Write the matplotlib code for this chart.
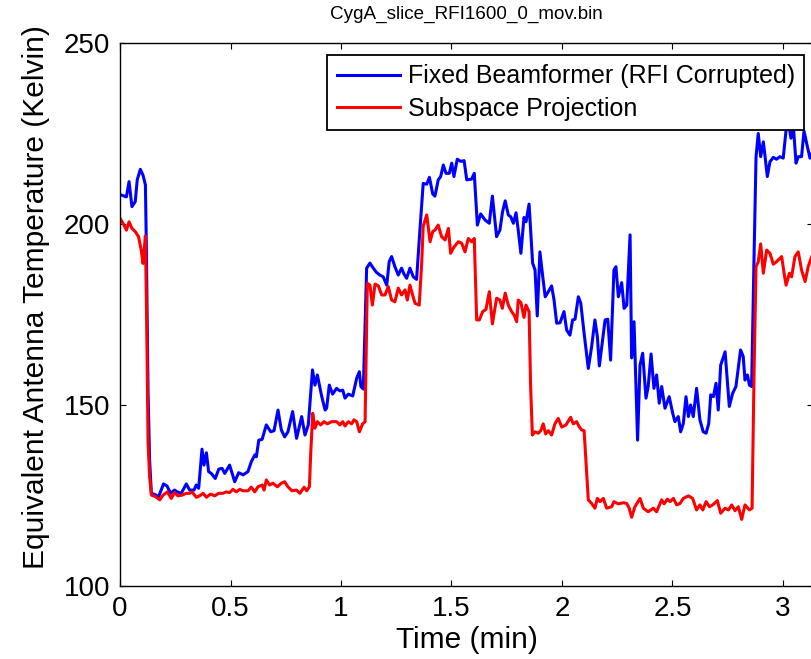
import matplotlib
matplotlib.use("Agg")
import matplotlib.pyplot as plt

# Fixed beamformer (RFI corrupted)
blue_t = [0.006, 0.029, 0.041, 0.054, 0.069, 0.078, 0.092, 0.104, 0.115, 0.119,
          0.127, 0.134, 0.142, 0.157, 0.175, 0.197, 0.213, 0.229, 0.247, 0.259,
          0.277, 0.300, 0.315, 0.335, 0.345, 0.356, 0.371, 0.380, 0.391, 0.401,
          0.413, 0.431, 0.447, 0.462, 0.474, 0.496, 0.519, 0.537, 0.557, 0.579,
          0.594, 0.610, 0.617, 0.628, 0.643, 0.662, 0.682, 0.697, 0.715, 0.730,
          0.745, 0.760, 0.781, 0.799, 0.822, 0.837, 0.852, 0.871, 0.882, 0.893,
          0.913, 0.928, 0.935, 0.947, 0.962, 0.980, 0.995, 1.008, 1.018, 1.033,
          1.053, 1.071, 1.083, 1.090, 1.101, 1.116, 1.131, 1.146, 1.161, 1.176,
          1.191, 1.207, 1.218, 1.229, 1.244, 1.259, 1.274, 1.285, 1.297, 1.312,
          1.327, 1.342, 1.357, 1.372, 1.388, 1.400, 1.415, 1.425, 1.440, 1.451,
          1.463, 1.475, 1.490, 1.501, 1.511, 1.526, 1.542, 1.557, 1.569, 1.591,
          1.603, 1.617, 1.632, 1.652, 1.671, 1.685, 1.704, 1.719, 1.731, 1.743,
          1.757, 1.768, 1.780, 1.792, 1.802, 1.814, 1.828, 1.837, 1.851, 1.867,
          1.878, 1.888, 1.900, 1.913, 1.924, 1.938, 1.953, 1.964, 1.976, 1.991,
          2.009, 2.021, 2.036, 2.048, 2.059, 2.074, 2.085, 2.100, 2.119, 2.134,
          2.149, 2.160, 2.169, 2.184, 2.195, 2.207, 2.220, 2.235, 2.244, 2.255,
          2.270, 2.281, 2.293, 2.308, 2.315, 2.326, 2.342, 2.353, 2.365, 2.380,
          2.390, 2.403, 2.416, 2.428, 2.440, 2.451, 2.466, 2.485, 2.501, 2.511,
          2.526, 2.537, 2.549, 2.561, 2.572, 2.582, 2.594, 2.609, 2.624, 2.639,
          2.652, 2.664, 2.673, 2.685, 2.697, 2.707, 2.718, 2.738, 2.757, 2.772,
          2.787, 2.808, 2.820, 2.828, 2.839, 2.848, 2.858, 2.869, 2.878, 2.888,
          2.899, 2.911, 2.919, 2.929, 2.941, 2.956, 2.971, 2.986, 3.001, 3.014,
          3.024, 3.036, 3.047, 3.059, 3.069, 3.084, 3.095, 3.107, 3.122, 3.131,
          3.150]
blue_k = [208.0, 207.5, 211.7, 204.8, 206.2, 212.2, 215.1, 213.5, 210.8, 194.7,
          153.3, 134.8, 125.6, 125.3, 124.7, 128.2, 127.6, 125.6, 126.5, 126.0,
          125.6, 128.2, 126.5, 126.5, 127.9, 127.0, 137.8, 133.4, 136.8, 131.6,
          131.1, 129.7, 132.3, 132.5, 131.1, 133.4, 128.8, 131.3, 130.7, 131.6,
          134.3, 136.2, 135.7, 140.3, 140.5, 144.5, 142.6, 142.9, 148.6, 143.1,
          141.2, 142.6, 148.2, 140.8, 146.8, 141.7, 144.5, 159.7, 155.5, 158.3,
          152.3, 148.6, 149.1, 155.5, 153.0, 154.6, 153.9, 154.1, 151.9, 153.0,
          152.5, 157.4, 159.2, 155.1, 154.4, 187.8, 189.2, 187.8, 186.6, 185.9,
          185.4, 183.1, 189.6, 191.0, 188.2, 185.9, 187.8, 186.2, 185.0, 187.8,
          185.4, 184.7, 198.3, 211.2, 211.0, 212.9, 208.3, 207.7, 212.2, 213.1,
          216.3, 214.0, 214.0, 216.8, 213.1, 217.9, 217.3, 217.5, 212.2, 212.4,
          214.0, 199.7, 202.8, 201.1, 200.2, 207.7, 196.5, 198.3, 203.4, 206.4,
          202.5, 202.0, 200.2, 203.1, 198.3, 191.9, 201.8, 200.6, 205.5, 189.2,
          187.3, 174.6, 192.3, 185.4, 179.9, 181.3, 182.9, 179.0, 172.6, 172.7,
          175.8, 170.7, 169.3, 173.5, 173.7, 179.9, 178.1, 169.8, 160.1, 166.1,
          173.5, 168.9, 160.8, 168.0, 173.5, 173.7, 162.4, 187.3, 188.2, 179.9,
          183.8, 176.7, 177.6, 197.0, 163.0, 173.0, 140.3, 161.0, 164.3, 151.9,
          155.1, 164.1, 154.6, 158.3, 150.5, 155.1, 149.1, 152.3, 147.7, 145.4,
          146.8, 142.6, 144.9, 152.3, 146.8, 150.0, 146.8, 154.6, 145.9, 142.6,
          142.2, 144.9, 152.8, 152.3, 156.0, 148.6, 161.0, 164.7, 149.6, 153.2,
          155.1, 165.2, 163.4, 156.9, 158.3, 155.5, 155.1, 191.0, 218.6, 225.0,
          218.6, 222.7, 218.6, 213.1, 217.2, 218.4, 217.9, 218.6, 218.2, 226.0,
          228.3, 223.7, 226.9, 216.8, 218.6, 218.6, 225.7, 222.3, 218.2, 219.6,
          220.0]

# Subspace projection
red_t = [0.003, 0.018, 0.029, 0.041, 0.054, 0.069, 0.084, 0.096, 0.104, 0.115,
         0.121, 0.127, 0.134, 0.142, 0.160, 0.180, 0.195, 0.214, 0.232, 0.247,
         0.262, 0.281, 0.300, 0.315, 0.326, 0.345, 0.360, 0.376, 0.391, 0.410,
         0.428, 0.447, 0.466, 0.481, 0.496, 0.511, 0.526, 0.542, 0.557, 0.579,
         0.594, 0.610, 0.624, 0.643, 0.652, 0.662, 0.677, 0.692, 0.712, 0.730,
         0.745, 0.760, 0.778, 0.799, 0.814, 0.833, 0.845, 0.857, 0.863, 0.872,
         0.882, 0.893, 0.908, 0.923, 0.938, 0.958, 0.980, 0.995, 1.008, 1.018,
         1.033, 1.048, 1.059, 1.071, 1.083, 1.098, 1.109, 1.119, 1.131, 1.142,
         1.154, 1.169, 1.184, 1.199, 1.214, 1.229, 1.244, 1.259, 1.274, 1.290,
         1.300, 1.312, 1.324, 1.335, 1.354, 1.365, 1.372, 1.388, 1.403, 1.415,
         1.425, 1.440, 1.455, 1.471, 1.486, 1.496, 1.511, 1.531, 1.546, 1.561,
         1.576, 1.591, 1.603, 1.614, 1.626, 1.641, 1.656, 1.671, 1.685, 1.704,
         1.719, 1.730, 1.743, 1.757, 1.772, 1.783, 1.795, 1.802, 1.814, 1.828,
         1.837, 1.851, 1.858, 1.866, 1.878, 1.893, 1.904, 1.915, 1.926, 1.938,
         1.953, 1.968, 1.983, 1.999, 2.018, 2.039, 2.051, 2.066, 2.078, 2.089,
         2.100, 2.119, 2.134, 2.149, 2.160, 2.172, 2.187, 2.202, 2.225, 2.235,
         2.255, 2.278, 2.293, 2.304, 2.315, 2.330, 2.353, 2.368, 2.390, 2.413,
         2.428, 2.451, 2.462, 2.477, 2.489, 2.504, 2.519, 2.534, 2.549, 2.572,
         2.591, 2.609, 2.624, 2.637, 2.652, 2.667, 2.682, 2.703, 2.718, 2.738,
         2.753, 2.768, 2.783, 2.798, 2.813, 2.828, 2.848, 2.860, 2.869, 2.878,
         2.888, 2.899, 2.911, 2.926, 2.941, 2.956, 2.971, 2.994, 3.005, 3.014,
         3.029, 3.039, 3.054, 3.069, 3.084, 3.100, 3.114, 3.131, 3.150]
red_k = [201.3, 199.7, 198.3, 200.6, 198.8, 197.9, 196.5, 192.8, 189.1, 196.7,
         171.6, 139.4, 130.2, 125.1, 124.7, 123.8, 125.1, 126.0, 124.2, 125.8,
         124.9, 125.1, 125.6, 125.6, 126.0, 124.5, 124.9, 125.6, 124.5, 125.4,
         124.9, 125.6, 125.6, 126.0, 125.8, 126.7, 126.0, 126.7, 126.3, 126.3,
         127.3, 126.0, 127.4, 127.9, 126.5, 129.3, 127.9, 128.4, 127.4, 128.4,
         128.8, 127.4, 126.3, 126.5, 125.6, 127.3, 126.3, 127.4, 136.7, 147.7,
         143.6, 145.4, 144.5, 145.4, 144.8, 145.4, 145.4, 144.5, 145.4, 144.2,
         145.4, 144.8, 145.9, 145.4, 142.6, 144.8, 145.4, 183.6, 183.1, 177.6,
         183.4, 182.9, 180.4, 180.4, 182.7, 179.0, 178.5, 182.3, 180.4, 181.8,
         179.0, 183.1, 180.4, 178.1, 177.6, 189.1, 199.4, 202.5, 195.1, 197.9,
         198.3, 199.7, 196.5, 195.6, 198.8, 191.9, 193.6, 195.1, 194.7, 192.3,
         196.0, 195.1, 196.0, 173.5, 173.5, 175.8, 176.4, 181.3, 172.4, 179.5,
         179.0, 176.7, 180.9, 177.6, 175.8, 174.9, 173.0, 179.0, 178.3, 174.2,
         177.6, 175.8, 155.1, 141.7, 142.6, 142.2, 142.9, 144.8, 142.0, 142.9,
         141.7, 144.8, 146.3, 143.9, 144.5, 146.6, 144.8, 145.4, 144.0, 143.1,
         142.9, 123.8, 122.8, 121.5, 124.2, 123.3, 124.2, 121.5, 121.9, 123.3,
         122.7, 123.0, 122.8, 121.5, 119.0, 121.9, 124.2, 121.5, 120.5, 121.5,
         120.5, 123.8, 122.7, 124.0, 123.3, 124.2, 122.4, 122.8, 124.2, 124.9,
         124.2, 121.0, 122.4, 121.0, 123.3, 121.9, 122.4, 123.6, 120.1, 121.5,
         121.0, 122.4, 120.8, 121.9, 118.4, 122.4, 121.0, 121.5, 158.8, 188.2,
         189.6, 194.5, 186.4, 192.8, 191.9, 188.9, 189.6, 191.0, 186.4, 183.1,
         186.4, 185.4, 191.0, 192.3, 187.3, 184.1, 188.2, 191.2, 190.0]

series_labels = ["Fixed Beamformer (RFI Corrupted)", "Subspace Projection"]
x_ticks = [0, 0.5, 1, 1.5, 2, 2.5, 3]
x_tick_labels = ["0", "0.5", "1", "1.5", "2", "2.5", "3"]
y_ticks = [100, 150, 200, 250]

plt.rcParams["font.family"] = ["Liberation Sans", "DejaVu Sans"]

fig = plt.figure(figsize=(8.12, 6.59), dpi=100)
ax = fig.add_axes([120 / 812, 73 / 659, 693 / 812, 543 / 659])

ax.plot(blue_t, blue_k, color="#0000ff", linewidth=2.2, label=series_labels[0])
ax.plot(red_t, red_k, color="#ff0000", linewidth=2.2, label=series_labels[1])

ax.set_xlim(0, 693 / 221)
ax.set_ylim(100, 250)
ax.set_xticks(x_ticks)
ax.set_xticklabels(x_tick_labels)
ax.set_yticks(y_ticks)
ax.tick_params(direction="in", length=4.3, width=0.8, top=True, right=True,
               labelsize=20, pad=7)
for spine in ax.spines.values():
    spine.set_linewidth(1.0)

ax.set_xlabel("Time (min)", fontsize=21.5, labelpad=3)
ax.set_ylabel("Equivalent Antenna Temperature (Kelvin)", fontsize=21.5)
ax.yaxis.set_label_coords(-0.101, 0.532)
ax.set_title("CygA_slice_RFI1600_0_mov.bin", fontsize=13.6, pad=17.5)

leg = ax.legend(loc="upper left", bbox_to_anchor=((327 - 120) / 693, (586 - 55) / 543),
                fontsize=18, fancybox=False, framealpha=1, edgecolor="black",
                borderaxespad=0, borderpad=0.38, handlelength=2.55,
                handletextpad=0.3, labelspacing=0.33)
leg.get_frame().set_linewidth(1.3)

fig.savefig("out.png", dpi=100)
